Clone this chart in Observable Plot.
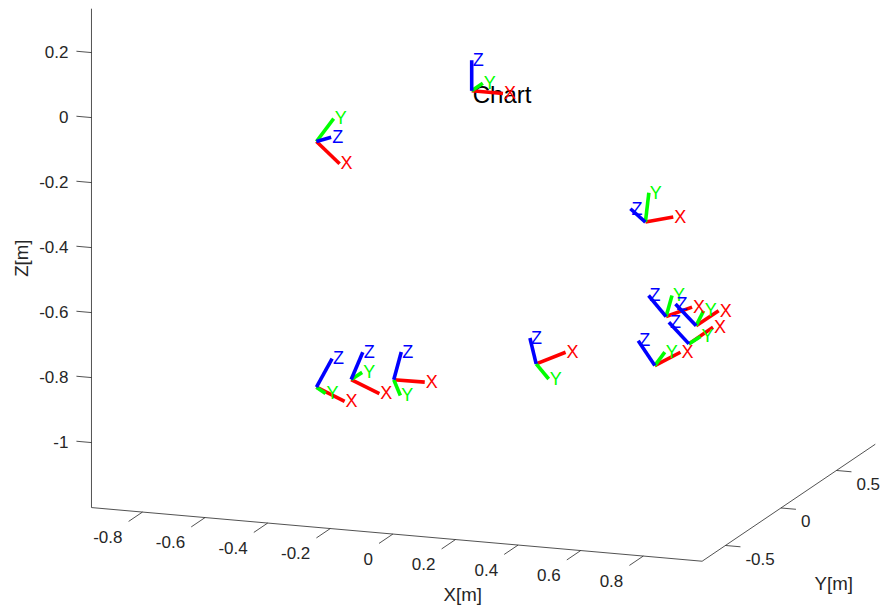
<!DOCTYPE html>
<html><head><meta charset="utf-8">
<script src="https://cdn.jsdelivr.net/npm/d3@7"></script>
<script src="https://cdn.jsdelivr.net/npm/@observablehq/plot@0.6"></script>
<style>html,body{margin:0;padding:0;background:#fff;}</style>
</head><body><div id="chart"></div>
<script>
// ---- axes ----
const xTicks = [-0.8, -0.6, -0.4, -0.2, 0, 0.2, 0.4, 0.6, 0.8];
const xTickLabels = ["-0.8", "-0.6", "-0.4", "-0.2", "0", "0.2", "0.4", "0.6", "0.8"];
const yTicks = [-0.5, 0, 0.5];
const yTickLabels = ["-0.5", "0", "0.5"];
const zTicks = [0.2, 0, -0.2, -0.4, -0.6, -0.8, -1];
const zTickLabels = ["0.2", "0", "-0.2", "-0.4", "-0.6", "-0.8", "-1"];
const xLimits = [-0.963, 0.988];
const yLimits = [-0.71, 0.85];
const zLimits = [-1.2, 0.335];
const axisTitles = ["X[m]", "Y[m]", "Z[m]"];
const titleText = "Chart";

// ---- coordinate frames (origin + tips of the X, Y, Z arrows, metres) ----
const originX = [0, -0.496, 0.555, -0.496, -0.385, -0.249, 0.206, 0.621, 0.717, 0.694, 0.585];
const originY = [0, 0, 0, 0, 0, 0, 0, 0, 0, 0, 0];
const originZ = [0, -0.198, -0.357, -0.954, -0.921, -0.910, -0.823, -0.642, -0.662, -0.720, -0.796];
const xAxisTips = [[0.1,0,0],[0.074,0,-0.062],[0.089,0,0.023],[0.090,0,-0.036],[0.090,0,-0.036],[0.099,0,0.001],[0.094,0,0.044],[0.083,0,0.036],[0.072,0,0.052],[0.077,0,0.058],[0.082,0,0.048]];
const yAxisTips = [[0,0.1,0],[0.055,0,0.075],[0.011,0,0.091],[0.029,0,-0.017],[0.035,0,0.025],[0.021,0,-0.047],[0.040,0,-0.043],[0.019,0,0.066],[0.024,0,0.048],[0.037,0,0.026],[0.032,0,0.044]];
const zAxisTips = [[0,0,0.094],[0.047,0,0.017],[-0.048,0,0.037],[0.050,0,0.092],[0.037,0,0.087],[0.024,0,0.087],[-0.020,0,0.078],[-0.056,0,0.060],[-0.066,0,0.061],[-0.064,0,0.061],[-0.053,0,0.072]];
const axisNames = ["X", "Y", "Z"];
const axisColors = ["#ff0000", "#00ff00", "#0000ff"];

// ---- view (orthographic projection of the 3-D box) ----
const W = 884, H = 609;
const view = {ox: 471.2, oy: 90.3, ux: 313, uy: 111, vx: 27.5, vy: -75, vz: 325};
function P(X, Y, Z) {
  return {px: X + (view.uy / view.ux) * Y, py: Z - (view.vx * X + view.vy * Y) / view.vz};
}
const [x0, x1] = xLimits, [y0, y1] = yLimits, [z0, z1] = zLimits;

const edges = [
  {a: P(x0, y0, z0), b: P(x1, y0, z0)},
  {a: P(x1, y0, z0), b: P(x1, y1, z0)},
  {a: P(x0, y0, z0), b: P(x0, y0, z1)}
];
const tickLen = 0.048, xTickLen = 0.125;
const xt = xTicks.map((t, i) => ({a: P(t, y0, z0), b: P(t, y0 - xTickLen, z0), label: xTickLabels[i]}));
const yt = yTicks.map((t, i) => ({a: P(x1, t, z0), b: P(x1 + tickLen, t, z0), label: yTickLabels[i]}));
const zt = zTicks.map((t, i) => ({a: P(x0, y0, t), b: P(x0 - tickLen, y0, t), label: zTickLabels[i]}));

const tips = [xAxisTips, yAxisTips, zAxisTips];
const segs = [];
originX.forEach((ox, i) => {
  for (let k = 0; k < 3; k++) {
    const d = tips[k][i];
    segs.push({a: P(ox, originY[i], originZ[i]),
               b: P(ox + d[0], originY[i] + d[1], originZ[i] + d[2]), k});
  }
});

const titles = [
  {p: P((x0 + x1) / 2, y0, z0), text: axisTitles[0], dx: 66, dy: 61, rotate: 0},
  {p: P(x1, (y0 + y1) / 2, z0), text: axisTitles[1], dx: 45, dy: 81, rotate: 0},
  {p: P(x0, y0, (z0 + z1) / 2), text: axisTitles[2], dx: -69, dy: 0, rotate: -90}
];
const origin0 = P(0, 0, 0);

const lk = {x1: d => d.a.px, y1: d => d.a.py, x2: d => d.b.px, y2: d => d.b.py};
const axisInk = "#262626";

const chart = Plot.plot({
  width: W, height: H, margin: 0,
  x: {domain: [-view.ox / view.ux, (W - view.ox) / view.ux], range: [0, W], axis: null},
  y: {domain: [(view.oy - H) / view.vz, view.oy / view.vz], range: [H, 0], axis: null},
  color: {type: "identity"},
  style: {fontFamily: "'Liberation Sans', Arial, Helvetica, sans-serif", background: "#fff"},
  marks: [
    Plot.link(edges, {...lk, stroke: axisInk, strokeWidth: 0.8}),
    Plot.link([...xt, ...yt, ...zt], {...lk, stroke: axisInk, strokeWidth: 0.8}),
    Plot.text(xt, {x: d => d.a.px, y: d => d.a.py, text: "label", textAnchor: "end", dx: -20, dy: 25, fontSize: 17, fill: axisInk}),
    Plot.text(yt, {x: d => d.a.px, y: d => d.a.py, text: "label", textAnchor: "start", dx: 20, dy: 14, fontSize: 17, fill: axisInk}),
    Plot.text(zt, {x: d => d.a.px, y: d => d.a.py, text: "label", textAnchor: "end", dx: -23, dy: 0, fontSize: 17, fill: axisInk}),
    ...titles.map(t => Plot.text([t], {x: d => d.p.px, y: d => d.p.py, text: "text", dx: t.dx, dy: t.dy, rotate: t.rotate, fontSize: 18.7, fill: axisInk})),
    Plot.text([titleText], {x: origin0.px, y: origin0.py, text: d => d, textAnchor: "start", dx: 1, dy: 5, fontSize: 24, fill: "#000"}),
    Plot.link(segs, {...lk, stroke: d => axisColors[d.k], strokeWidth: 3.6}),
    Plot.text(segs, {x: d => d.b.px, y: d => d.b.py, text: d => axisNames[d.k], fill: d => axisColors[d.k], textAnchor: "start", dx: 1, fontSize: 18})
  ]
});
document.getElementById("chart").appendChild(chart);
</script>
</body></html>
